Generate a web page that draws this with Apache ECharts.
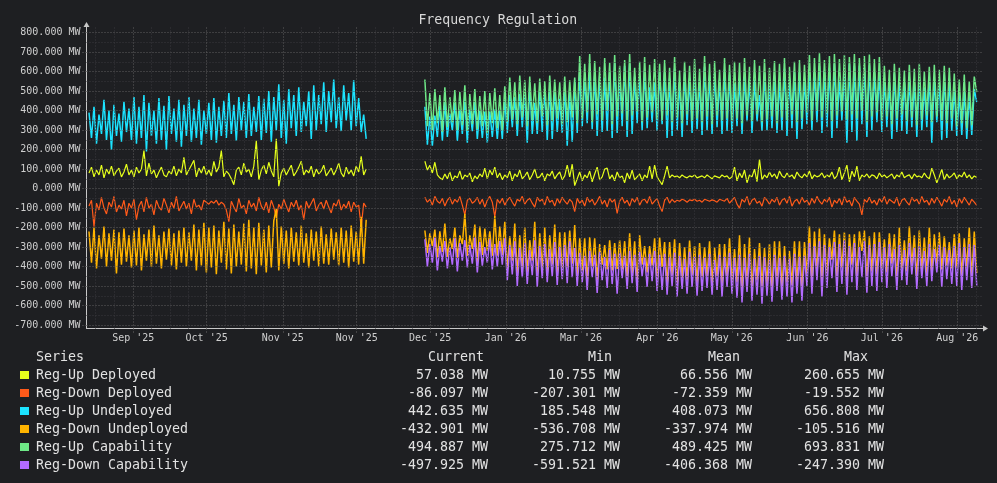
<!DOCTYPE html>
<html>
<head>
<meta charset="utf-8">
<title>Frequency Regulation</title>
<script src="https://cdn.jsdelivr.net/npm/echarts@6.0.0/dist/echarts.min.js"></script>
<style>
html, body { margin: 0; padding: 0; background: #1e1f22; }
#container { width: 997px; height: 483px; }
</style>
</head>
<body>
<div id="container"></div>
<script>
// x is measured in days from the left edge of the plot; two blocks of daily samples with a gap between them
var seg1Start = 1;
var seg2Start = 135.5;
var gapDay = 124;

var tickDays = [18.7, 48.1, 78.6, 108.2, 137.6, 167.9, 198.0, 228.6, 258.4, 288.7, 318.5, 348.7];
var tickLabels = ["Sep '25", "Oct '25", "Nov '25", "Nov '25", "Dec '25", "Jan '26", "Mar '26", "Apr '26", "May '26", "Jun '26", "Jul '26", "Aug '26"];
var yTicks = [-700, -600, -500, -400, -300, -200, -100, 0, 100, 200, 300, 400, 500, 600, 700, 800];

var seriesNames = ['Reg-Up Deployed', 'Reg-Down Deployed', 'Reg-Up Undeployed', 'Reg-Down Undeployed', 'Reg-Up Capability', 'Reg-Down Capability'];
var statCurrent = [57.038, -86.097, 442.635, -432.901, 494.887, -497.925];
var statMin = [10.755, -207.301, 185.548, -536.708, 275.712, -591.521];
var statMean = [66.556, -72.359, 408.073, -337.974, 489.425, -406.368];
var statMax = [260.655, -19.552, 656.808, -105.516, 693.831, -247.390];

// Reg-Up Deployed
var upDeployed1 = [80,110,60,95,70,120,55,100,75,115,65,90,105,60,85,125,70,95,60,110,
80,100,195,65,130,75,95,55,85,110,70,60,90,75,115,65,100,80,160,70,
95,120,145,60,105,80,115,70,95,65,140,85,110,195,60,90,75,50,20,95,
110,70,130,85,100,60,115,245,45,95,120,75,135,90,60,255,12,80,105,70,
95,120,65,85,110,140,70,95,80,115,60,100,75,90,120,65,85,105,70,95,
130,80,60,110,75,95,65,115,85,165,70,100];
var upDeployed2 = [140,95,120,80,135,70,55,
45,75,50,85,40,65,55,90,45,70,60,80,35,65,50,75,
60,105,50,95,70,110,55,
80,45,70,55,90,40,75,60,95,50,65,85,45,70,100,55,60,80,40,75,65,90,50,70,85,45,65,
120,60,125,15,50,85,40,70,
55,90,35,75,110,45,60,100,105,50,70,40,85,55,65,30,80,50,95,45,60,75,40,70,55,
115,50,120,60,40,20,65,
115,55,70,60,65,55,70,60,55,65,60,70,55,60,
65,55,70,60,50,65,60,55,70,60,65,50,60,
110,40,80,55,95,30,70,60,100,35,150,45,
70,55,85,60,75,50,90,65,55,80,60,70,50,85,65,55,75,60,90,50,70,60,65,80,55,70,60,85,50,65,
110,45,80,120,35,90,60,115,40,70,
60,75,55,70,65,50,80,60,70,55,65,75,50,70,60,85,55,65,70,50,75,60,65,55,80,60,50,105,70,30,
60,100,45,75,55,65,80,50,70,60,85,55,70,50,65,57];

// Reg-Down Deployed
var downDeployed1 = [-90,-60,-195,-75,-110,-45,-100,-130,-70,-95,-40,-120,-85,-105,-60,-140,-75,-100,-55,-160,
-90,-65,-120,-45,-100,-80,-135,-60,-95,-110,-50,-85,-125,-70,-100,-40,-115,-90,-65,-105,
-75,-130,-55,-95,-85,-110,-60,-70,-80,-65,-75,-60,-85,-70,-80,-110,-170,-65,-95,-120,
-50,-100,-85,-130,-60,-95,-75,-115,-45,-90,-110,-70,-125,-60,-95,-150,-80,-105,-55,-90,
-120,-70,-95,-60,-110,-85,-160,-65,-100,-75,-50,-115,-85,-70,-105,-60,-95,-125,-75,-90,
-55,-110,-80,-100,-65,-120,-70,-95,-85,-200,-75,-95];
var downDeployed2 = [-45,-70,-55,-85,-40,-65,-75,-50,-90,-60,-45,-80,-55,-70,-40,-85,-135,-60,-50,-75,
-65,-45,-80,-55,-95,-60,-40,-70,-144,-55,-75,-50,-85,-60,-45,-70,-90,-55,-65,-40,
-80,-60,-50,-75,-95,-45,-65,-55,-85,-40,-70,-60,-90,-50,-75,-45,-65,-80,-55,-70,
-118,-50,-75,-60,-90,-45,-70,-55,-85,-65,-40,-80,-60,-95,-50,-70,-55,-127,-65,-45,
-75,-60,-90,-50,-70,-45,-85,-60,-55,-75,-40,-80,-65,-50,-90,-118,-60,-45,-75,-55,
-70,-60,-65,-55,-60,-70,-58,-62,-55,-65,-60,-70,-55,-60,-65,-58,-62,-70,-55,-60,
-65,-50,-75,-60,-45,-80,-100,-55,-70,-40,-85,-60,-50,-75,-65,-90,-45,-60,-80,-55,
-70,-45,-85,-60,-50,-75,-40,-90,-65,-55,-80,-45,-70,-60,-85,-50,-75,-40,-65,-80,
-55,-70,-45,-95,-60,-75,-50,-85,-40,-70,-60,-90,-45,-65,-80,-135,-55,-70,-45,-75,
-60,-85,-50,-70,-40,-80,-55,-65,-75,-45,-90,-60,-50,-70,-85,-45,-65,-55,-80,-40,
-70,-60,-85,-50,-75,-45,-65,-90,-55,-70,-40,-80,-60,-95,-50,-75,-45,-65,-85,-55,-70,-86];

// Reg-Up Undeployed
var upUndeployed1 = [390,260,420,230,380,280,455,250,400,200,430,270,385,240,445,290,410,250,
470,230,420,260,480,190,440,270,400,230,465,250,425,200,475,280,410,240,455,215,430,
270,470,240,410,260,455,225,400,280,440,250,465,235,420,270,450,
260,490,280,430,245,470,300,445,260,485,270,420,290,475,250,460,285,
500,240,470,300,535,260,455,230,510,310,480,270,520,290,445,320,500,255,530,300,
480,330,545,290,500,340,560,310,470,295,530,350,490,300,555,320,465,290,
380,255];
var upUndeployed2 = [420,225,370,220,375,265,425,245,445,265,385,300,440,245,405,280,460,235,405,295,445,255,400,260,395,235,395,265,405,255,400,255,455,
285,480,315,470,270,485,315,490,235,530,280,440,280,505,290,510,250,515,255,510,290,460,285,510,220,495,240,555,285,
595,320,570,335,600,305,580,270,580,290,570,295,595,260,645,285,575,320,630,265,640,280,575,335,575,300,605,310,520,340,545,295,600,
330,595,260,565,270,615,300,550,265,590,325,565,285,595,305,555,275,625,300,580,280,590,315,555,280,610,295,585,285,540,
320,565,280,575,345,555,285,560,345,480,295,595,300,535,310,580,285,550,300,615,270,565,310,600,255,595,305,560,
330,595,300,600,340,629,285,605,315,620,260,640,310,555,350,605,235,640,290,630,245,630,330,620,265,633,300,600,340,595,
290,560,315,545,255,590,290,560,295,550,280,565,315,540,265,575,300,520,315,575,235,565,340,550,250,585,260,565,295,
510,270,490,275,500,255,480,275,510,443];

// Reg-Down Undeployed
var downUndeployed1 = [-220,-380,-200,-410,-240,-360,-195,-400,-230,-370,-210,-435,-225,-390,-205,-375,-240,-405,-215,-395,
-200,-420,-235,-370,-210,-400,-190,-385,-240,-410,-220,-365,-205,-395,-230,-415,-215,-380,-200,-400,
-225,-370,-185,-420,-210,-395,-175,-430,-200,-405,-190,-440,-215,-380,-170,-415,-205,-435,-185,-400,
-220,-390,-180,-425,-160,-410,-200,-440,-175,-395,-210,-430,-190,-405,-165,-105,-420,-195,-385,-215,
-410,-200,-375,-225,-395,-190,-380,-230,-405,-210,-370,-220,-400,-195,-385,-235,-390,-205,-365,-225,
-395,-200,-380,-215,-405,-190,-375,-220,-390,-145,-385,-160];
var downUndeployed2 = [-215,-330,-230,-295,-210,-355,-220,-325,-180,-350,-255,-310,-200,-355,-240,-285,-130,-345,-240,-310,-185,-385,-195,-340,-205,-320,-220,-345,-141,-345,-195,-340,-170,
-410,-245,-370,-180,-445,-240,-415,-200,-430,-265,-370,-170,-460,-230,-405,-200,-440,-240,-390,-185,-445,-225,-420,-225,-405,-215,-385,-187,-450,
-255,-420,-255,-475,-250,-400,-255,-470,-285,-390,-290,-415,-265,-420,-280,-413,-265,-415,-270,-455,-230,-435,-270,-485,-240,-390,-295,-430,-295,-395,-255,-475,-250,
-402,-275,-500,-275,-445,-260,-495,-280,-460,-300,-470,-267,-443,-295,-485,-280,-455,-300,-450,-270,-487,-303,-450,-285,-495,-285,-455,-255,-480,-310,
-480,-240,-530,-285,-490,-250,-515,-310,-470,-280,-501,-305,-490,-285,-525,-270,-480,-270,-510,-295,-480,-320,-495,-270,-485,-270,-530,-275,
-440,-195,-490,-220,-430,-205,-475,-235,-440,-255,-365,-215,-455,-235,-405,-225,-475,-235,-390,-235,-455,-220,-320,-215,-465,-245,-425,-225,-440,-225,
-410,-260,-430,-230,-385,-235,-475,-200,-410,-265,-425,-195,-395,-240,-460,-215,-420,-250,-440,-200,-425,-235,-385,-225,-415,-245,-395,-275,-410,
-235,-405,-230,-445,-255,-405,-200,-455,-220,-433];

// Reg-Up Capability (second block only)
var upCapability2 = [560,320,490,300,510,335,480,290,520,315,470,340,505,300,495,325,530,295,485,330,510,305,475,320,500,285,490,335,515,310,480,300,525,
340,570,355,545,330,580,365,555,320,575,350,540,335,565,370,550,325,580,345,560,360,545,330,575,340,555,365,570,335,
680,360,640,390,690,340,655,380,625,350,670,400,645,330,685,370,630,385,660,345,690,375,620,395,650,340,675,365,635,390,665,355,640,
350,660,375,620,340,675,365,605,335,650,380,630,345,665,360,615,340,680,370,640,330,655,375,610,350,670,360,635,345,650,
360,645,335,670,375,625,345,660,380,630,340,665,355,620,370,655,335,640,365,670,350,625,380,650,340,660,360,635,
390,685,350,670,400,694,365,660,385,680,345,690,375,665,395,685,355,675,380,690,360,670,400,680,340,688,370,665,390,675,
350,630,370,610,330,640,360,620,380,605,345,635,365,615,325,640,355,600,375,625,340,635,370,610,350,630,335,620,360,
590,320,560,335,585,310,550,325,575,495];

// Reg-Down Capability (second block only)
var downCapability2 = [-260,-400,-285,-380,-250,-420,-295,-375,-270,-410,-300,-390,-255,-425,-280,-370,-265,-405,-290,-385,-250,-430,-275,-395,-300,-380,-260,-415,-285,-400,-270,-390,-255,
-470,-290,-440,-270,-500,-305,-455,-280,-490,-315,-445,-265,-505,-295,-460,-285,-480,-310,-450,-275,-495,-300,-465,-290,-485,-270,-455,-305,-500,
-330,-480,-345,-520,-320,-455,-340,-535,-325,-470,-350,-510,-315,-490,-335,-540,-330,-460,-345,-515,-320,-485,-340,-530,-325,-450,-350,-505,-335,-475,-320,-525,-340,
-520,-335,-545,-350,-500,-330,-555,-345,-515,-360,-540,-325,-505,-350,-550,-340,-525,-355,-510,-335,-545,-365,-520,-340,-555,-350,-505,-330,-540,-355,
-560,-340,-585,-355,-530,-335,-575,-360,-545,-345,-591,-350,-550,-365,-580,-340,-525,-355,-570,-345,-555,-360,-585,-335,-540,-350,-575,-345,
-500,-280,-540,-295,-470,-270,-555,-290,-510,-300,-460,-275,-530,-285,-490,-265,-545,-295,-480,-280,-520,-300,-455,-270,-535,-290,-500,-285,-525,-275,
-480,-300,-510,-285,-450,-310,-520,-290,-470,-315,-495,-280,-440,-305,-515,-295,-460,-320,-500,-285,-475,-310,-430,-290,-505,-300,-465,-315,-490,
-295,-500,-280,-520,-300,-470,-285,-510,-290,-498];

var colors = ['#e6ff1c', '#ff5a1a', '#1ce3ff', '#ffb400', '#6ee887', '#b36bff'];
var widths = [1.2, 1.2, 1.5, 1.5, 1.5, 1.5];
var mono = '"DejaVu Sans Mono", monospace';
var X_MAX = 359;

function pairs(start, values) {
	var out = [];
	for (var i = 0; i < values.length; i++) {
		out.push([start + i, values[i]]);
	}
	return out;
}
function joined(a, b) {
	return pairs(seg1Start, a).concat([[gapDay, null]], pairs(seg2Start, b));
}

var seriesData = [
	joined(upDeployed1, upDeployed2),
	joined(downDeployed1, downDeployed2),
	joined(upUndeployed1, upUndeployed2),
	joined(downUndeployed1, downUndeployed2),
	pairs(seg2Start, upCapability2),
	pairs(seg2Start, downCapability2)
];

function fmt(v) { return v.toFixed(3) + ' MW'; }

// dotted grid, drawn on top of the data like the original
var gridLines = [];
var major = '#5e5e5e', minor = '#38393c';
for (var v = -700; v <= 800; v += 50) {
	gridLines.push({ yAxis: v, lineStyle: { color: v % 100 === 0 ? major : minor } });
}
var step = 7.5;
for (var k = 0; k < tickDays.length; k++) {
	gridLines.push({ xAxis: tickDays[k], lineStyle: { color: major } });
	var next = k < tickDays.length - 1 ? tickDays[k + 1] : tickDays[k] + 30;
	for (var m = 1; m < 4; m++) {
		var p = tickDays[k] + (next - tickDays[k]) * m / 4;
		if (p < X_MAX) gridLines.push({ xAxis: p, lineStyle: { color: minor } });
	}
}
for (var q = tickDays[0] - step; q > 1; q -= step) {
	gridLines.push({ xAxis: q, lineStyle: { color: minor } });
}

var series = [];
for (var s = 0; s < seriesData.length; s++) {
	series.push({
		name: seriesNames[s],
		type: 'line',
		data: seriesData[s],
		showSymbol: false,
		symbol: 'none',
		connectNulls: false,
		animation: false,
		lineStyle: { width: widths[s], color: colors[s] },
		z: 2
	});
}
series.push({
	type: 'line',
	data: [],
	silent: true,
	animation: false,
	z: 5,
	markLine: {
		silent: true,
		animation: false,
		symbol: ['none', 'none'],
		label: { show: false },
		lineStyle: { type: [1, 2], width: 1 },
		data: gridLines
	}
});

// title and the stats table under the plot
var graphics = [{
	type: 'text', x: 497.8, y: 20.3,
	style: { text: 'Frequency Regulation', fill: '#d8d8d8', font: '13.2px ' + mono, align: 'center', verticalAlign: 'middle' }
}];
var headers = [['Series', 36], ['Current', 428], ['Min', 588], ['Mean', 708], ['Max', 844]];
for (var h = 0; h < headers.length; h++) {
	graphics.push({ type: 'text', x: headers[h][1], y: 358,
		style: { text: headers[h][0], fill: '#e2e2e2', font: '13.3px ' + mono, align: 'left', verticalAlign: 'middle' } });
}
var colRight = [488, 620, 752, 884];
for (var r = 0; r < seriesNames.length; r++) {
	var yRow = 376 + r * 18;
	graphics.push({ type: 'rect', shape: { x: 20, y: yRow - 5, width: 9, height: 8 }, style: { fill: colors[r] } });
	graphics.push({ type: 'text', x: 36, y: yRow,
		style: { text: seriesNames[r], fill: '#e2e2e2', font: '13.3px ' + mono, align: 'left', verticalAlign: 'middle' } });
	var vals = [statCurrent[r], statMin[r], statMean[r], statMax[r]];
	for (var c = 0; c < 4; c++) {
		graphics.push({ type: 'text', x: colRight[c], y: yRow,
			style: { text: fmt(vals[c]), fill: '#e2e2e2', font: '13.3px ' + mono, align: 'right', verticalAlign: 'middle' } });
	}
}

var option = {
	backgroundColor: '#1e1f22',
	animation: false,
	grid: { left: 86.5, right: 14, top: 27, bottom: 154.5, containLabel: false },
	xAxis: {
		type: 'value',
		min: 0,
		max: X_MAX,
		axisLine: { show: true, onZero: false, lineStyle: { color: '#c8c8c8', width: 1 }, symbol: ['none', 'triangle'], symbolSize: [6, 5], symbolOffset: [0, 2.5] },
		axisTick: { show: true, customValues: tickDays, length: 4, lineStyle: { color: '#6a6a6a', type: [1, 2] } },
		axisLabel: {
			customValues: tickDays,
			margin: 5,
			color: '#cfcfcf',
			fontFamily: mono,
			fontSize: 10,
			formatter: function (val) {
				for (var i = 0; i < tickDays.length; i++) {
					if (Math.abs(tickDays[i] - val) < 0.01) return tickLabels[i];
				}
				return '';
			}
		},
		splitLine: { show: false }
	},
	yAxis: {
		type: 'value',
		min: -718,
		max: 829,
		axisLine: { show: true, onZero: false, lineStyle: { color: '#c8c8c8', width: 1 }, symbol: ['none', 'triangle'], symbolSize: [6, 5], symbolOffset: [0, 2.5] },
		axisTick: { show: true, customValues: yTicks, length: 4, lineStyle: { color: '#6a6a6a', type: [1, 2] } },
		axisLabel: {
			customValues: yTicks,
			margin: 6,
			color: '#cfcfcf',
			fontFamily: mono,
			fontSize: 10,
			formatter: fmt
		},
		splitLine: { show: false }
	},
	graphic: graphics,
	series: series
};

var myChart = echarts.init(document.getElementById('container'));
myChart.setOption(option);
</script>
</body>
</html>
